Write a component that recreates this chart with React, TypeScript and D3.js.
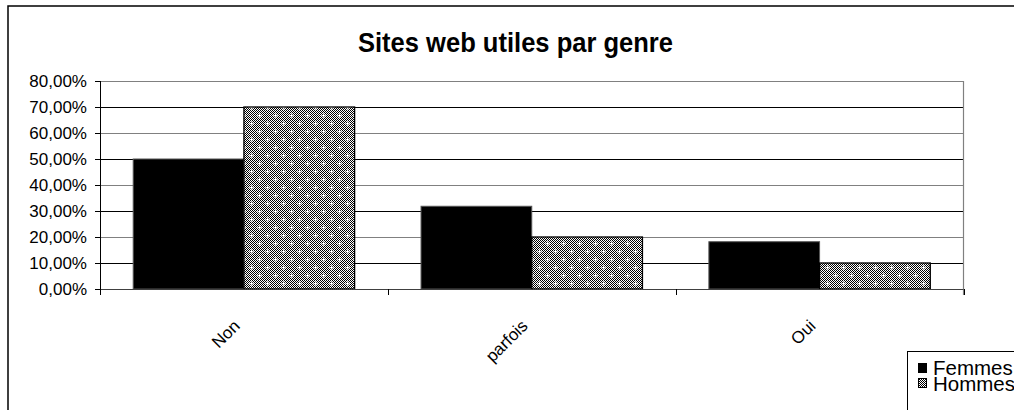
import React from "react";
import * as d3 from "d3";

const categories = ["Non", "parfois", "Oui"];
const seriesNames = ["Femmes", "Hommes"];
const femmes = [0.5, 0.3182, 0.1818];
const hommes = [0.7, 0.2, 0.1];
const yTicks = [0, 0.1, 0.2, 0.3, 0.4, 0.5, 0.6, 0.7, 0.8];
const title = "Sites web utiles par genre";

const FONT = "'Liberation Sans', Arial, Helvetica, sans-serif";

export default function App() {
  const W = 1014;
  const H = 410;
  const plot = { left: 100, right: 963.5, top: 81, bottom: 289 };
  const x = d3.scaleBand<string>().domain(categories).range([plot.left, plot.right]).paddingInner(0).paddingOuter(0);
  const xs = d3.scaleBand<string>().domain(seriesNames).range([0, x.bandwidth()]).paddingInner(0).paddingOuter(0.3);
  const y = d3.scaleLinear().domain([0, 0.8]).range([plot.bottom, plot.top]);
  const fmt = (v: number) => d3.format(".2f")(v * 100).replace(".", ",") + "%";
  const values: Record<string, number[]> = { Femmes: femmes, Hommes: hommes };
  const bounds = [...categories.map((c) => x(c)!), plot.right];

  return (
    <svg width={W} height={H} style={{ position: "absolute", left: 0, top: 0, display: "block", background: "#fff" }}>
      <defs>
        <pattern id="chk" patternUnits="userSpaceOnUse" width={2} height={2}>
          <rect x={0} y={0} width={2} height={2} fill="#fff" />
          <rect x={0} y={0} width={1} height={1} fill="#000" />
          <rect x={1} y={1} width={1} height={1} fill="#000" />
        </pattern>
        <pattern id="hom" patternUnits="userSpaceOnUse" width={16} height={16}>
          <rect x={0} y={0} width={16} height={16} fill="url(#chk)" />
          <rect x={3} y={1.5} width={1.2} height={4} fill="#fff" />
          <rect x={1.5} y={3} width={4} height={1.2} fill="#fff" />
          <rect x={11} y={9.5} width={1.2} height={4} fill="#fff" />
          <rect x={9.5} y={11} width={4} height={1.2} fill="#fff" />
        </pattern>
      </defs>
      {/* outer frame */}
      <rect x={8} y={6} width={1020} height={420} fill="#fff" stroke="#000" strokeWidth={1.5} />
      {/* title */}
      <text x={515.5} y={52} textAnchor="middle" fontFamily={FONT} fontWeight="bold" fontSize={27} textLength={315} lengthAdjust="spacingAndGlyphs" fill="#000">
        {title}
      </text>
      {/* gridlines */}
      {yTicks.map((t, i) => (
        <line key={"g" + i} x1={plot.left} x2={plot.right} y1={Math.round(y(t)) + 0.5} y2={Math.round(y(t)) + 0.5}
          stroke={i === 0 ? "#404040" : i % 2 === 0 ? "#808080" : "#000"} strokeWidth={1} />
      ))}
      {/* right border */}
      <line x1={plot.right} x2={plot.right} y1={plot.top} y2={plot.bottom + 6} stroke="#808080" strokeWidth={1.2} />
      {/* bars */}
      {categories.map((c, ci) =>
        seriesNames.map((s) => {
          const v = values[s][ci];
          const bx = x(c)! + xs(s)!;
          const by = y(v);
          return (
            <rect key={c + s} x={bx} y={by} width={xs.bandwidth()} height={plot.bottom - by}
              fill={s === "Femmes" ? "#000" : "url(#hom)"}
              stroke={s === "Femmes" ? "#555" : "#000"} strokeWidth={s === "Femmes" ? 1 : 1.3} />
          );
        })
      )}
      {/* y axis */}
      <line x1={plot.left + 0.5} x2={plot.left + 0.5} y1={plot.top} y2={plot.bottom} stroke="#000" strokeWidth={1} />
      {yTicks.map((t, i) => (
        <g key={"y" + i}>
          <line x1={95} x2={plot.left} y1={Math.round(y(t)) + 0.5} y2={Math.round(y(t)) + 0.5} stroke="#000" />
          <text x={87} y={y(t) + 6} textAnchor="end" fontFamily={FONT} fontSize={17} fill="#000">
            {fmt(t)}
          </text>
        </g>
      ))}
      {/* x axis */}
      <line x1={plot.left} x2={plot.right} y1={plot.bottom + 0.5} y2={plot.bottom + 0.5} stroke="#404040" strokeWidth={1.2} />
      {bounds.map((b, i) => (
        <line key={"xt" + i} x1={Math.round(b) + 0.5} x2={Math.round(b) + 0.5} y1={plot.bottom} y2={plot.bottom + 6} stroke="#000" />
      ))}
      {categories.map((c) => {
        const cx = x(c)! + x.bandwidth() / 2 - 3;
        const cy = 327;
        return (
          <text key={"xl" + c} x={cx} y={cy} textAnchor="end" transform={`rotate(-45 ${cx} ${cy})`} fontFamily={FONT} fontSize={17} fill="#000">
            {c}
          </text>
        );
      })}
      {/* legend */}
      <rect x={907.5} y={351.5} width={120} height={70} fill="#fff" stroke="#000" strokeWidth={1} />
      <rect x={918} y={363} width={9} height={10} fill="#000" />
      <rect x={918.5} y={378.5} width={8} height={9} fill="url(#chk)" stroke="#000" strokeWidth={1} />
      <text x={933} y={375} fontFamily={FONT} fontSize={20.5} fill="#000">{seriesNames[0]}</text>
      <text x={933} y={391} fontFamily={FONT} fontSize={20.5} fill="#000">{seriesNames[1]}</text>
    </svg>
  );
}
